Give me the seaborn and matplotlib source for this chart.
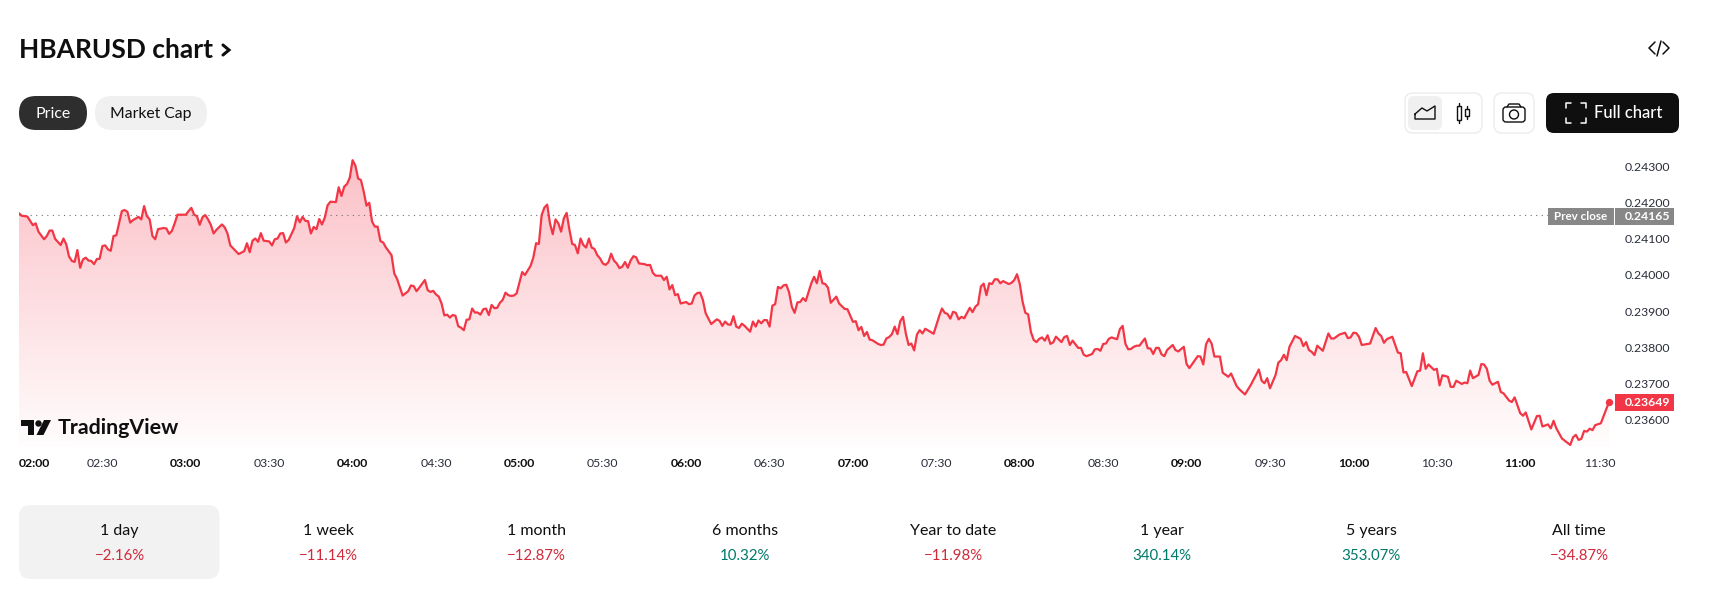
import numpy as np
import pandas as pd
import matplotlib
matplotlib.use("Agg")
import matplotlib.pyplot as plt
import seaborn as sns
from matplotlib.colors import LinearSegmentedColormap
from matplotlib.patches import FancyBboxPatch, Polygon, Circle, Rectangle
from matplotlib.transforms import ScaledTranslation

# minutes after 02:00 and price in 1e-5 USD
minutes_a = [0, 1, 3, 5, 6, 7, 9, 10, 11, 12, 13, 15, 16, 17, 18, 19, 20, 21, 22, 23, 24, 25, 26, 27, 28, 29, 30, 31, 32, 33,
             34, 35, 36, 37, 38, 39, 40, 41, 43, 44, 45, 46, 47, 48, 49, 50, 52, 53, 54, 55, 56, 57, 60, 61, 62, 63, 64, 65, 66, 67,
             68, 69, 70, 71, 73, 74, 75, 76, 77, 79, 81, 82, 83, 84, 85, 86, 87, 88, 90, 91, 92, 93, 94, 95, 96, 97, 99, 100, 101, 102,
             103, 104, 105, 106, 107, 108, 109, 110, 111, 112, 114, 115, 116, 117, 118, 119, 120, 121, 122, 123, 124, 125, 126, 127, 128, 129, 130, 131, 132, 134,
             135, 136, 138, 140, 141, 142, 143, 144, 146, 147, 148, 149, 150, 151, 152, 153, 154, 155, 156, 157, 158, 159, 160, 161, 162, 163, 164, 165, 166, 167,
             168, 169, 170, 171, 172, 173, 174, 175, 176, 177, 178, 179, 181, 182, 184, 185, 186, 187, 188, 189, 190, 191, 192, 193, 194, 195, 196, 197]
price_a = [24171, 24164, 24162, 24138, 24143, 24120, 24099, 24108, 24123, 24123, 24100, 24083, 24101, 24085, 24051, 24039, 24036, 24069, 24020, 24043, 24048, 24040, 24039, 24030, 24044, 24045, 24080, 24082, 24071, 24067,
           24108, 24110, 24143, 24177, 24180, 24175, 24145, 24152, 24161, 24154, 24191, 24163, 24154, 24108, 24099, 24127, 24130, 24129, 24114, 24122, 24143, 24167, 24167, 24177, 24186, 24167, 24163, 24139, 24160, 24166,
           24154, 24139, 24115, 24125, 24140, 24132, 24115, 24082, 24074, 24058, 24066, 24088, 24063, 24095, 24101, 24092, 24116, 24095, 24093, 24082, 24099, 24101, 24115, 24116, 24090, 24097, 24130, 24163, 24146, 24161,
           24150, 24149, 24115, 24133, 24127, 24155, 24140, 24159, 24193, 24203, 24202, 24243, 24219, 24245, 24252, 24270, 24318, 24303, 24267, 24263, 24231, 24192, 24200, 24148, 24134, 24134, 24094, 24090, 24076, 24055,
           24004, 23989, 23943, 23955, 23971, 23969, 23955, 23965, 23986, 23958, 23953, 23956, 23946, 23940, 23921, 23888, 23890, 23882, 23889, 23887, 23858, 23854, 23847, 23876, 23877, 23907, 23896, 23896, 23890, 23905,
           23907, 23889, 23917, 23908, 23909, 23923, 23931, 23951, 23944, 23942, 23943, 23949, 24008, 24000, 24025, 24048, 24088, 24086, 24166, 24187, 24195, 24143, 24113, 24154, 24143, 24120, 24157, 24172]

minutes_b = [198, 199, 200, 201, 202, 203, 204, 205, 206, 207, 208, 209, 210, 211, 212, 213, 214, 215, 216, 217, 218, 219, 220, 221, 222, 223, 225, 226, 227, 228,
             229, 231, 232, 233, 234, 235, 236, 237, 238, 240, 241, 242, 243, 244, 245, 246, 247, 249, 251, 252, 253, 254, 255, 256, 257, 258, 259, 260, 261, 263,
             264, 265, 266, 267, 268, 269, 270, 271, 272, 273, 274, 275, 276, 277, 278, 279, 280, 281, 282, 283, 285, 286, 287, 288, 289, 290, 291, 292, 294, 295,
             297, 298, 300, 301, 302, 303, 304, 305, 306, 307, 309, 310, 311, 312, 313, 314, 315, 316, 317, 318, 319, 320, 321, 322, 323, 324, 325, 326, 329, 331,
             332, 333, 334, 335, 336, 337, 338, 339, 340, 342, 343, 344, 345, 346, 347, 348, 349, 350, 351, 352, 353, 354, 356, 357, 358, 359, 360, 361, 362, 363,
             364, 365, 366, 367, 368, 369, 370, 371, 372, 373, 375, 376, 377, 378, 379, 381, 382, 383, 384, 386, 387, 388, 389, 390, 391, 392, 393, 395, 396, 397,
             398, 399, 400, 401, 402]
price_b = [24125, 24086, 24083, 24060, 24101, 24083, 24076, 24101, 24076, 24072, 24055, 24046, 24032, 24028, 24035, 24059, 24040, 24032, 24019, 24023, 24036, 24020, 24040, 24052, 24049, 24032, 24030, 24027, 24028, 24006,
           23998, 23998, 23986, 23995, 23960, 23972, 23944, 23947, 23921, 23925, 23919, 23921, 23943, 23950, 23951, 23931, 23894, 23864, 23877, 23873, 23859, 23871, 23863, 23862, 23886, 23857, 23853, 23865, 23859, 23843,
           23871, 23857, 23874, 23866, 23875, 23875, 23857, 23915, 23919, 23967, 23963, 23971, 23973, 23952, 23912, 23895, 23924, 23925, 23936, 23928, 23977, 23995, 23977, 24011, 23977, 23975, 23965, 23923, 23940, 23921,
           23906, 23905, 23870, 23872, 23847, 23856, 23831, 23842, 23821, 23819, 23809, 23806, 23807, 23824, 23828, 23836, 23857, 23836, 23872, 23884, 23838, 23806, 23810, 23791, 23835, 23847, 23838, 23851, 23837, 23886,
           23907, 23895, 23892, 23879, 23898, 23895, 23877, 23884, 23880, 23909, 23897, 23912, 23919, 23968, 23976, 23944, 23977, 23975, 23988, 23988, 23977, 23983, 23975, 23978, 23986, 24002, 23975, 23926, 23895, 23891,
           23842, 23820, 23814, 23823, 23827, 23818, 23833, 23809, 23813, 23829, 23814, 23828, 23831, 23806, 23818, 23798, 23798, 23779, 23775, 23781, 23794, 23795, 23790, 23809, 23810, 23823, 23827, 23822, 23850, 23859,
           23809, 23794, 23795, 23801, 23804]

minutes_c = [403, 405, 406, 407, 408, 409, 410, 411, 412, 413, 415, 416, 417, 419, 420, 421, 424, 425, 426, 427, 428, 429, 430, 432, 433, 435, 436, 438, 439, 441,
             443, 446, 447, 448, 449, 450, 452, 453, 454, 455, 456, 457, 459, 461, 462, 463, 464, 465, 466, 467, 469, 471, 472, 473, 475, 477, 478, 479, 480, 481,
             482, 483, 486, 488, 489, 490, 491, 492, 494, 496, 497, 498, 499, 501, 503, 504, 505, 506, 507, 509, 510, 511, 512, 514, 515, 516, 517, 519, 520, 521,
             522, 523, 525, 526, 527, 528, 529, 530, 532, 533, 534, 536, 537, 538, 540, 541, 542, 544, 546, 547, 548, 550, 551, 552, 553, 555, 558, 559, 560, 561,
             562, 563, 564, 565, 566, 567, 569, 572]
price_c = [23804, 23824, 23797, 23796, 23781, 23798, 23798, 23780, 23775, 23792, 23806, 23792, 23788, 23801, 23753, 23742, 23775, 23774, 23752, 23808, 23823, 23810, 23774, 23774, 23729, 23718, 23727, 23692, 23683, 23669,
           23694, 23738, 23707, 23700, 23714, 23686, 23723, 23757, 23764, 23779, 23764, 23801, 23831, 23823, 23803, 23814, 23792, 23787, 23778, 23804, 23790, 23838, 23824, 23824, 23835, 23840, 23825, 23827, 23840, 23839,
           23829, 23806, 23810, 23853, 23838, 23831, 23812, 23822, 23829, 23785, 23783, 23730, 23731, 23692, 23733, 23735, 23783, 23740, 23752, 23737, 23740, 23694, 23722, 23718, 23690, 23690, 23707, 23698, 23702, 23700,
           23735, 23714, 23723, 23753, 23752, 23740, 23707, 23696, 23704, 23676, 23672, 23652, 23648, 23661, 23617, 23610, 23619, 23572, 23609, 23610, 23580, 23586, 23575, 23596, 23575, 23547, 23529, 23550, 23557, 23543,
           23546, 23568, 23566, 23574, 23570, 23584, 23589, 23649]

prev_close = 0.24165
last_price = 0.23649
y_ticks = [0.236, 0.237, 0.238, 0.239, 0.240, 0.241, 0.242, 0.243]
x_labels = ["02:00", "02:30", "03:00", "03:30", "04:00", "04:30", "05:00", "05:30", "06:00", "06:30",
            "07:00", "07:30", "08:00", "08:30", "09:00", "09:30", "10:00", "10:30", "11:00", "11:30"]
x_ticks = [30 * i for i in range(len(x_labels))]

periods = ["1 day", "1 week", "1 month", "6 months", "Year to date", "1 year", "5 years", "All time"]
changes = ["\u22122.16%", "\u221211.14%", "\u221212.87%", "10.32%", "\u221211.98%", "340.14%", "353.07%", "\u221234.87%"]
period_x = [119.5, 328, 536.5, 745, 953, 1162, 1371, 1579]

RED = "#f23645"
INK = "#0f0f0f"
GREY = "#878787"

df = pd.DataFrame({"minute": minutes_a + minutes_b + minutes_c,
                   "price": np.array(price_a + price_b + price_c) / 1e5})

sns.set_theme(style="white")
plt.rcParams["font.family"] = ["Lato", "Noto Sans", "DejaVu Sans"]

W, H = 1726, 610
fig = plt.figure(figsize=(W / 100, H / 100), dpi=100, facecolor="white")

# chart area
ax = fig.add_axes([19 / W, (H - 446) / H, (1615 - 19) / W, (446 - 140) / H], zorder=1)
xmax = 574.1
ymin, ymax = 0.235261, 0.24374

pink = LinearSegmentedColormap.from_list("pink_fade", ["#fffdfd", "#fbbcc3"])
grad = np.linspace(1, 0, 256).reshape(-1, 1)
im = ax.imshow(grad, cmap=pink, aspect="auto", extent=[0, xmax, ymin, ymax], vmin=0, vmax=1, zorder=1)
area = ax.fill_between(df["minute"], df["price"], ymin, facecolor="none", edgecolor="none")
im.set_clip_path(area.get_paths()[0], transform=ax.transData)

sns.lineplot(data=df, x="minute", y="price", ax=ax, color=RED, linewidth=1.6, estimator=None, sort=False, zorder=3)
sns.scatterplot(data=df.tail(1), x="minute", y="price", ax=ax, color=RED, s=28, linewidth=0, zorder=4)
ax.plot([0, 550.7], [prev_close, prev_close], color="#707070", lw=0.8, ls=(0, (1, 4)), zorder=2)

ax.set_xlim(0, xmax)
ax.set_ylim(ymin, ymax)
ax.set_xlabel("")
ax.set_ylabel("")
sns.despine(ax=ax, left=True, bottom=True, right=True, top=True)

ax.set_xticks(x_ticks)
ax.set_xticklabels(x_labels)
ax.yaxis.tick_right()
ax.set_yticks(y_ticks)
ax.set_yticklabels([f"{v:.5f}" for v in y_ticks])
ax.tick_params(axis="x", length=0, pad=8.5, labelsize=8.8, labelcolor="#2a2e39")
ax.tick_params(axis="y", length=0, pad=7, labelsize=8.8, labelcolor="#2a2e39")
for i, lab in enumerate(ax.get_xticklabels()):
    if x_labels[i].endswith(":00"):
        lab.set_fontweight("bold")
        lab.set_color(INK)
ax.get_xticklabels()[0].set_ha("left")
last_lab = ax.get_xticklabels()[-1]
last_lab.set_transform(last_lab.get_transform() + ScaledTranslation(-4 / 100, 0, fig.dpi_scale_trans))

# page furniture, in pixels of the screenshot
ui = fig.add_axes([0, 0, 1, 1], zorder=5, facecolor="none")
ui.set_xlim(0, W)
ui.set_ylim(H, 0)
ui.axis("off")


def box(x0, y0, x1, y1, r, fc, ec="none", lw=1.0):
    ui.add_patch(FancyBboxPatch((x0, y0), x1 - x0, y1 - y0, boxstyle=f"round,pad=0,rounding_size={r}",
                                fc=fc, ec=ec, lw=lw))


def price_y(v):
    return H - ax.transData.transform((0, v))[1]


ui.text(19, 50, "HBARUSD chart", fontsize=19, fontweight="bold", color=INK, va="center", ha="left")
ui.plot([223, 229, 223], [45, 50, 55], color=INK, lw=2.2, solid_joinstyle="miter")

# code icon
ui.plot([1655, 1649, 1655], [42, 48, 54], color=INK, lw=1.1)
ui.plot([1663, 1669, 1663], [42, 48, 54], color=INK, lw=1.1)
ui.plot([1657, 1661], [56, 41], color=INK, lw=1.1)

# price / market cap
box(19, 96, 87, 130, 17, "#2e2e2e")
ui.text(53, 114, "Price", color="white", fontsize=11.4, ha="center", va="center")
box(95, 96, 207, 130, 17, "#f0f0f0")
ui.text(151, 114, "Market Cap", color=INK, fontsize=11.3, ha="center", va="center")

# chart type buttons
box(1405, 93, 1482, 133, 8, "white", "#ececec")
box(1408, 96, 1442, 130, 6, "#f0f0f0")
ui.plot([1415, 1415, 1435, 1435, 1427, 1422, 1415], [114, 119, 119, 106, 111, 108, 114], color=INK, lw=1.0)
ui.add_patch(Rectangle((1457, 106), 4, 14, fc="none", ec=INK, lw=1.0))
ui.plot([1459, 1459], [103, 106], color=INK, lw=1.0)
ui.plot([1459, 1459], [120, 123], color=INK, lw=1.0)
ui.add_patch(Rectangle((1465, 109), 4, 7, fc="none", ec=INK, lw=1.0))
ui.plot([1467, 1467], [106, 109], color=INK, lw=1.0)
ui.plot([1467, 1467], [116, 119], color=INK, lw=1.0)

# camera button
box(1494, 93, 1534, 133, 8, "white", "#ececec")
box(1503, 107, 1525, 122, 3, "none", INK, 1.0)
ui.plot([1507, 1509, 1519, 1521], [107, 104, 104, 107], color=INK, lw=1.0)
ui.add_patch(Circle((1514, 114.5), 4.5, fc="none", ec=INK, lw=1.0))

# full chart button
box(1546, 93, 1679, 133, 8, INK)
for sx, sy, cx, cy in [(1, 1, 1566, 103), (-1, 1, 1586, 103), (1, -1, 1566, 123), (-1, -1, 1586, 123)]:
    ui.plot([cx, cx, cx + 5 * sx], [cy + 5 * sy, cy, cy], color="white", lw=1.1)
ui.text(1594, 113.5, "Full chart", color="white", fontsize=12, fontweight="medium", ha="left", va="center")

# price tags on the scale
yp = price_y(prev_close) + 1
ui.add_patch(Rectangle((1548, yp - 8.5), 66, 17, fc=GREY, ec="none"))
ui.text(1581, yp, "Prev close", color="white", fontsize=8.4, fontweight="bold", ha="center", va="center")
ui.add_patch(Rectangle((1615, yp - 8.5), 59, 17, fc=GREY, ec="none"))
ui.text(1625, yp, f"{prev_close:.5f}", color="white", fontsize=8.8, fontweight="bold", ha="left", va="center")
yl = price_y(last_price) + 1
ui.add_patch(Rectangle((1615, yl - 8.5), 59, 17, fc=RED, ec="none"))
ui.text(1625, yl, f"{last_price:.5f}", color="white", fontsize=8.8, fontweight="bold", ha="left", va="center")

# logo
ui.add_patch(Polygon([(21, 420), (34, 420), (34, 435), (28, 435), (28, 426), (21, 426)], fc=INK, ec="none"))
ui.add_patch(Circle((38.5, 423.5), 3.2, fc=INK, ec="none"))
ui.add_patch(Polygon([(44, 420), (51, 420), (43.5, 435), (36.5, 435)], fc=INK, ec="none"))
ui.text(58, 428, "TradingView", color=INK, fontsize=15.4, fontweight="bold", ha="left", va="center")

# performance row
box(19, 505, 219.5, 579, 12, "#f2f2f2")
for px, name, chg in zip(period_x, periods, changes):
    ui.text(px, 531, name, color=INK, fontsize=11.5, ha="center", va="center")
    ui.text(px, 555.5, chg, color="#d12a3a" if chg.startswith("\u2212") else "#00796b", fontsize=10.8, ha="center", va="center")

fig.savefig("out.png", dpi=100)
